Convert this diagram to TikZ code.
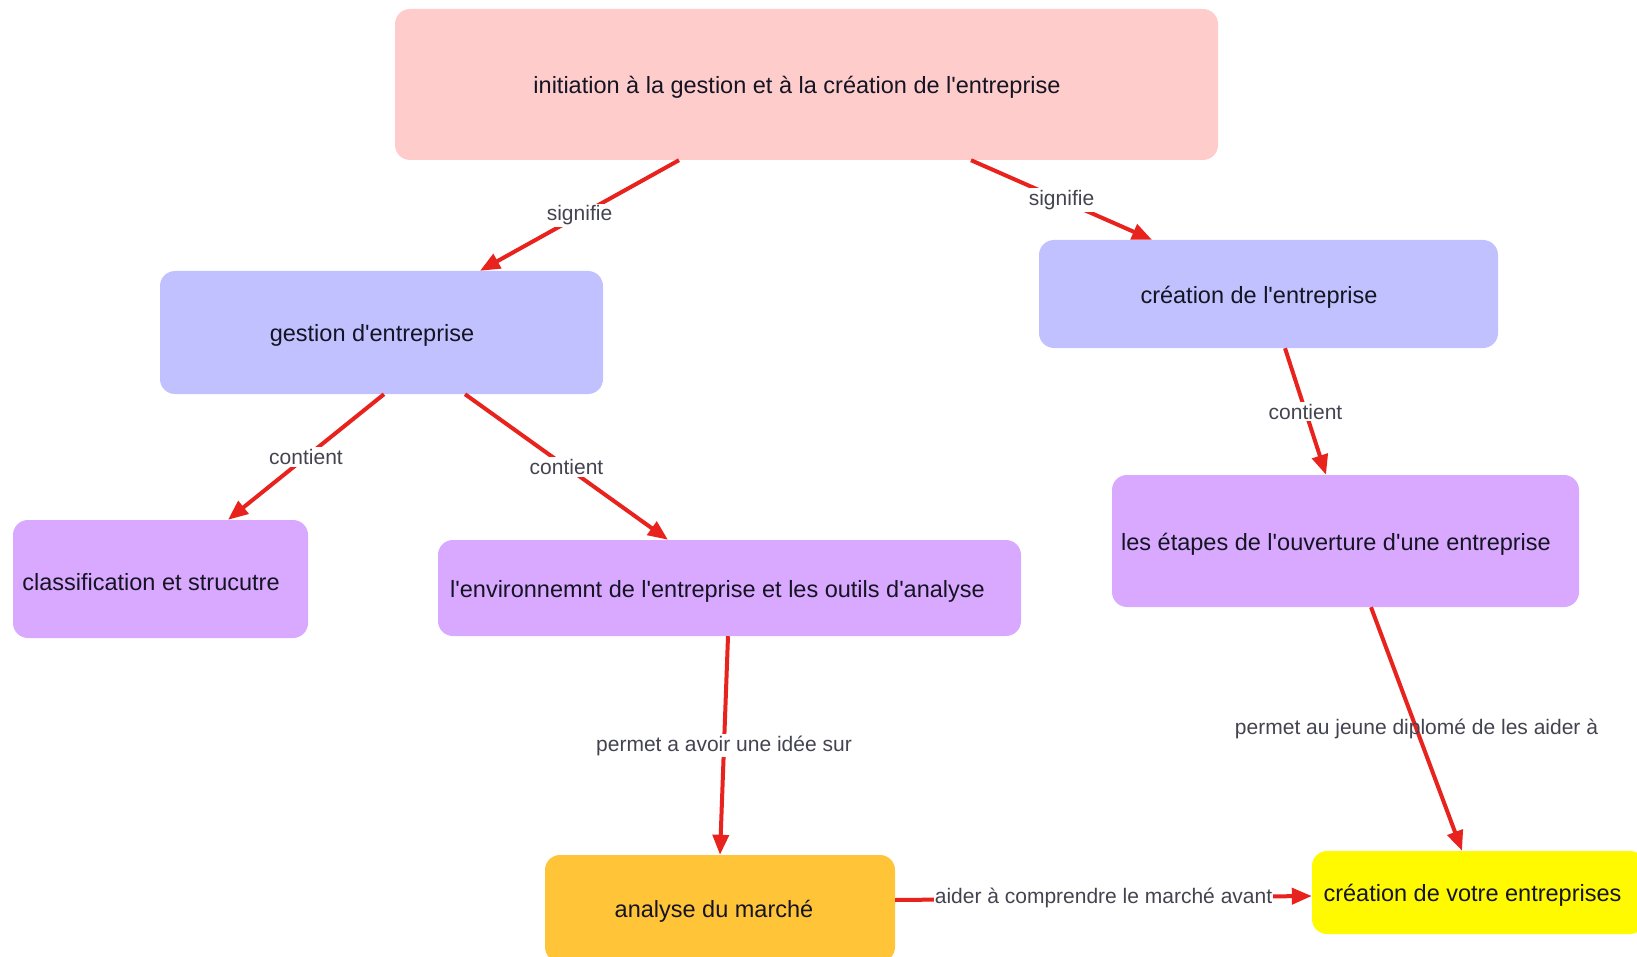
\documentclass[tikz,border=0pt]{standalone}
\usepackage{fontspec}
\setmainfont{Liberation Sans}
\usetikzlibrary{arrows.meta}
\definecolor{pinkbox}{RGB}{255,204,204}
\definecolor{bluebox}{RGB}{193,193,255}
\definecolor{purplebox}{RGB}{217,168,255}
\definecolor{orangebox}{RGB}{255,196,55}
\definecolor{yellowbox}{RGB}{255,250,0}
\definecolor{arrowred}{RGB}{232,35,30}
\definecolor{labelgray}{RGB}{68,68,80}
\definecolor{nodetext}{RGB}{20,20,35}
\newcommand{\myq}{\textquotesingle}
\newcommand{\bt}[2][19pt]{\raisebox{-3pt}[\height][\depth]{#2\hspace*{#1}}}
\begin{document}
\begin{tikzpicture}[x=1pt,y=-1pt,
  box/.style={rounded corners=15pt, inner sep=0pt, font=\fontsize{23.5}{28}\selectfont, text=nodetext},
  link/.style={draw=arrowred, line width=4pt, -{Triangle[length=20pt,width=16pt]}},
  lbl/.style={fill=white, inner sep=2pt, font=\fontsize{21}{25}\selectfont, text=labelgray}]
\useasboundingbox (0,0) rectangle (1637,957);
\clip (0,0) rectangle (1637,957);
\fill[white] (0,0) rectangle (1637,957);

\node[box, fill=pinkbox, minimum width=823pt, minimum height=151pt] (top) at (806.5,84.5)
  {\bt{initiation à la gestion et à la création de l\myq entreprise}};
\node[box, fill=bluebox, minimum width=443pt, minimum height=123pt] (gestion) at (381.5,332.5)
  {\bt{gestion d\myq entreprise}};
\node[box, fill=bluebox, minimum width=459pt, minimum height=108pt] (creation) at (1268.5,294)
  {\bt{création de l\myq entreprise}};
\node[box, fill=purplebox, minimum width=295pt, minimum height=118pt] (classif) at (160.5,579)
  {\bt{classification et strucutre}};
\node[box, fill=purplebox, minimum width=583pt, minimum height=96pt] (environ) at (729.5,588)
  {\bt[24pt]{l\myq environnemnt de l\myq entreprise et les outils d\myq analyse}};
\node[box, fill=purplebox, minimum width=467pt, minimum height=132pt] (etapes) at (1345.5,541)
  {\bt{les étapes de l\myq ouverture d\myq une entreprise}};
\node[box, fill=orangebox, minimum width=350pt, minimum height=107pt] (analyse) at (720,908.5)
  {\bt[12pt]{analyse du marché}};
\node[box, fill=yellowbox, minimum width=333pt, minimum height=83pt] (votre) at (1478.5,892.5)
  {\bt[12pt]{création de votre entreprises}};

\draw[link] ([xshift=-127.5pt]top.south) -- node[lbl] {signifie} ([xshift=98.5pt]gestion.north);
\draw[link] ([xshift=164.5pt]top.south) -- node[lbl] {signifie} ([xshift=-116.5pt]creation.north);
\draw[link] ([xshift=2.5pt]gestion.south) -- node[lbl] {contient} ([xshift=67.5pt]classif.north);
\draw[link] ([xshift=83.5pt]gestion.south) -- node[lbl] {contient} ([xshift=-61.5pt]environ.north);
\draw[link] ([xshift=16.5pt]creation.south) -- node[lbl] {contient} ([xshift=-19.5pt]etapes.north);
\draw[link] ([xshift=-1.5pt]environ.south) -- node[lbl] {permet a avoir une idée sur} (analyse.north);
\draw[link] ([xshift=25.5pt]etapes.south) -- node[lbl, fill=none] {permet au jeune diplomé de les aider à} ([xshift=-16.5pt]votre.north);
\draw[link] ([yshift=8.5pt]analyse.east) -- node[lbl, inner sep=1pt] {aider à comprendre le marché avant} ([yshift=-3.5pt]votre.west);
\end{tikzpicture}
\end{document}
